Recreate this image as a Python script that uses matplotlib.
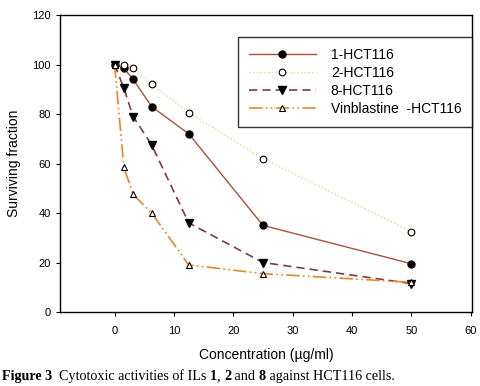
import matplotlib
matplotlib.use("Agg")
import matplotlib.pyplot as plt

conc = [0, 1.5625, 3.125, 6.25, 12.5, 25, 50]
s1 = [100, 98.5, 94, 83, 72, 35, 19.5]
s2 = [100, 100, 98.5, 92, 80.5, 62, 32.5]
s8 = [100, 90.5, 79, 67.5, 36, 20, 11.5]
vin = [100, 58.5, 47.5, 40, 19, 15.5, 12]
labels = ["1-HCT116", "2-HCT116", "8-HCT116", "Vinblastine  -HCT116"]

plt.rcParams['font.family'] = ['Liberation Sans', 'DejaVu Sans']
fig = plt.figure(figsize=(4.81, 3.86), dpi=100)
ax = fig.add_axes([0.1247, 0.1917, 0.981 - 0.1247, 0.961 - 0.1917])

ax.plot(conc, s1, color='#b0503a', lw=1.0, ls='-', marker='o', ms=5,
        mfc='black', mec='black', label=labels[0])
ax.plot(conc, s2, color='#ecd48a', lw=1.0, ls=':', marker='o', ms=4.8,
        mfc='white', mec='black', mew=0.8, label=labels[1])
ax.plot(conc, s8, color='#7a3f38', lw=1.2, ls=(0, (5, 3)), marker='v', ms=5.5,
        mfc='black', mec='black', label=labels[2])
ax.plot(conc, vin, color='#e8862a', lw=1.2, ls=(0, (8, 2, 1, 2, 1, 2)), marker='^', ms=5,
        mfc='white', mec='black', mew=0.8, label=labels[3])

ax.set_xlim(-9.2, 60.2)
ax.set_ylim(0, 120)
ax.set_xticks([0, 10, 20, 30, 40, 50, 60])
ax.set_yticks([0, 20, 40, 60, 80, 100, 120])
ax.tick_params(axis='both', labelsize=8, length=3, width=0.8, direction='out')
ax.tick_params(axis='x', pad=7)
for sp in ax.spines.values():
    sp.set_linewidth(1.0)
ax.set_xlabel("Concentration (\u00b5g/ml)", fontsize=10, labelpad=9)
ax.set_ylabel("Surviving fraction", fontsize=10, labelpad=8)

leg = ax.legend(loc='upper right', bbox_to_anchor=(1.0, 0.925), fontsize=10,
                frameon=True, fancybox=False, edgecolor='black', handlelength=4.8,
                borderpad=0.75, labelspacing=0.3, handletextpad=1.1, borderaxespad=0)
leg.get_frame().set_linewidth(1.0)

# caption with mixed bold segments
segments = [("Figure 3", 'bold'), ("  Cytotoxic activities of ILs ", 'normal'),
            ("1", 'bold'), (", ", 'normal'), ("2", 'bold'), (" and ", 'normal'),
            ("8", 'bold'), (" against HCT116 cells.", 'normal')]
fig.canvas.draw()
r = fig.canvas.get_renderer()
x = 2.0 / 481
for txt, w in segments:
    t = fig.text(x, 1 - 380.0 / 386, txt, fontsize=10.2, fontweight=w,
                 family=['Liberation Serif', 'DejaVu Serif'], va='baseline')
    bb = t.get_window_extent(renderer=r)
    x += bb.width / fig.bbox.width

fig.savefig("out.png", dpi=100)
